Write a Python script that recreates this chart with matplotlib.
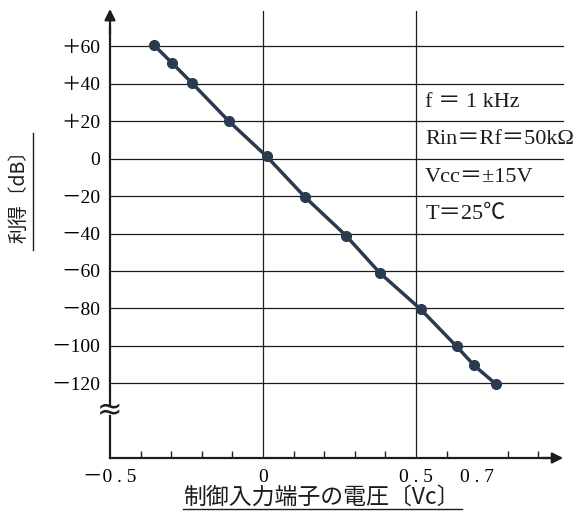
import matplotlib
matplotlib.use("Agg")
import matplotlib.pyplot as plt
import numpy as np

# ---------------- Data ----------------
vc = [-0.355, -0.297, -0.233, -0.112, 0.012, 0.137, 0.271, 0.382, 0.516, 0.633, 0.690, 0.761]
gain_db = [60.5, 51.1, 40.6, 20.1, 1.2, -20.5, -41.1, -61.1, -80.6, -100.4, -110.5, -120.5]

y_ticks = [60, 40, 20, 0, -20, -40, -60, -80, -100, -120]
y_labels = ["＋60", "＋40", "＋20", "0", "－20", "－40", "－60", "－80", "－100", "－120"]
x_ticks = [-0.5, 0, 0.5, 0.7]
x_labels = ["－0 . 5", "0", "0 . 5", "0 . 7"]
conditions = ["f ＝ 1 kHz", "Rin＝Rf＝50kΩ", "Vcc＝±15V", "T＝25℃"]
condition_y = [30, 10, -10, -30]

SERIF = ["Liberation Serif", "Noto Sans CJK JP", "DejaVu Serif"]
CJK = ["Noto Sans CJK JP", "DejaVu Sans"]
INK = "#1c1c1c"
LINE = "#2a3b50"

# ---------------- Figure ----------------
fig = plt.figure(figsize=(5.82, 5.12), dpi=100)
ax = fig.add_axes([110 / 582, 54 / 512, 459 / 582, 449 / 512])
ax.set_xlim(-0.5, 1.0)
ax.set_ylim(-160, 80)

# grid
for y in y_ticks:
    ax.plot([-0.5, 0.98], [y, y], color=INK, lw=0.9, zorder=1)
for x in [0, 0.5]:
    ax.plot([x, x], [-160, 79], color=INK, lw=0.9, zorder=1)

# curve
ax.plot(vc, gain_db, color=LINE, lw=2.5, marker="o", ms=7, zorder=3)

# axes / spines
for s in ["top", "right", "left", "bottom"]:
    ax.spines[s].set_visible(False)
ax.plot([-0.5, 0.95], [-160, -160], color=INK, lw=1.6, clip_on=False, zorder=2)
ax.annotate("", xy=(0.99, -160), xytext=(0.9, -160),
            arrowprops=dict(arrowstyle="-|>", color=INK, lw=1.6, mutation_scale=16),
            annotation_clip=False)
ax.plot([-0.5, -0.5], [-160, -137.5], color=INK, lw=1.6, clip_on=False, zorder=2)
ax.plot([-0.5, -0.5], [-131.5, 70], color=INK, lw=1.6, clip_on=False, zorder=2)
ax.annotate("", xy=(-0.5, 81.5), xytext=(-0.5, 65),
            arrowprops=dict(arrowstyle="-|>", color=INK, lw=1.6, mutation_scale=16),
            annotation_clip=False)
# break mark
ax.text(-0.5, -134.5, "≈", ha="center", va="center", fontsize=22,
        family=["DejaVu Sans"], color=INK, zorder=4)

# x minor ticks (inside, every 0.1)
ax.set_xticks(np.arange(-0.4, 0.91, 0.1), minor=True)
ax.tick_params(axis="x", which="minor", direction="in", length=5, width=1, color=INK)
ax.set_xticks(x_ticks)
ax.set_xticklabels(x_labels, family=SERIF, fontsize=14)
ax.tick_params(axis="x", which="major", direction="in", length=0, pad=8)
ax.set_yticks(y_ticks)
ax.set_yticklabels(y_labels, family=SERIF, fontsize=14)
ax.tick_params(axis="y", length=0, pad=7)

# condition text
for txt, yy in zip(conditions, condition_y):
    ax.text(0.53, yy, txt, ha="left", va="center", fontsize=16, family=SERIF, color=INK)

# axis labels with underline
fig.text(19 / 582, 1 - 192 / 512, "利得〔dB〕", rotation=90, ha="center", va="center",
         fontsize=14, family=CJK, color=INK)
fig.add_artist(plt.Line2D([33 / 582, 33 / 582], [1 - 250 / 512, 1 - 133 / 512],
                          color=INK, lw=1.0))
fig.text(321 / 582, 1 - 497 / 512, "制御入力端子の電圧〔Vc〕", ha="center", va="center",
         fontsize=16.5, family=CJK, color=INK)
fig.add_artist(plt.Line2D([183 / 582, 462 / 582], [1 - 509 / 512, 1 - 509 / 512],
                          color=INK, lw=1.0))

fig.savefig("out.png", dpi=100)
